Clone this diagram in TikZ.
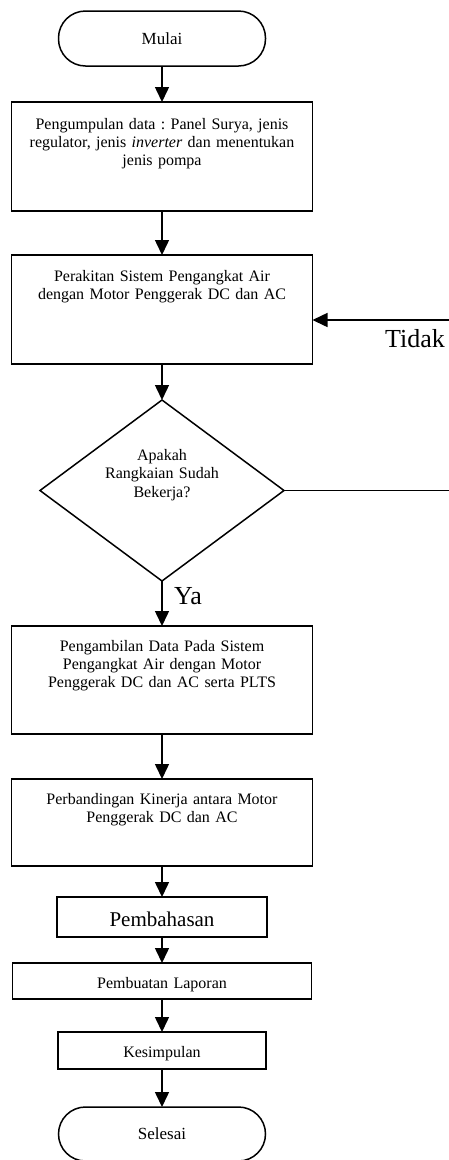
\documentclass[tikz,border=0pt]{standalone}
\usepackage{fontspec}
\setmainfont{Liberation Serif}
\frenchspacing
\usetikzlibrary{shapes.geometric, arrows.meta, positioning}
\tikzset{
    terminal/.style={rectangle, draw, rounded corners=27pt, line width=1.5pt, outer sep=0pt, minimum width=207pt, minimum height=55pt, inner sep=0pt, font=\fontsize{17pt}{19pt}\selectfont},
    proses/.style={rectangle, draw, line width=1.5pt, outer sep=0pt, text width=280pt, inner xsep=10.5pt, inner ysep=0pt, align=center, font=\fontsize{16pt}{18.4pt}\selectfont},
    keputusan/.style={diamond, draw, line width=1.5pt, outer sep=0pt, aspect=1.35, minimum width=244pt, minimum height=181pt, inner sep=0pt, text width=130pt, align=center, text height=11pt, text depth=71pt, font=\fontsize{16pt}{18.4pt}\selectfont},
    arrow/.style={-{Triangle[length=15pt, width=14pt]}, line width=1.5pt},
    garis/.style={line width=1.5pt},
    jawab/.style={inner sep=0pt, font=\fontsize{26pt}{30pt}\selectfont},
}

\begin{document}
\begin{tikzpicture}[x=1pt, y=1pt]
    \useasboundingbox (0,0) rectangle (449,-1160);
    % Mulai
    \node[terminal] (mulai) at (162,-38.5) {Mulai};
    
    % Persiapan dan perakitan
    \node[proses, below=36pt of mulai, text height=27pt, text depth=82pt] (kumpul) {Pengumpulan data : Panel Surya, jenis\\regulator, jenis \textit{inverter} dan menentukan\\jenis pompa};
    \node[proses, below=44pt of kumpul, text height=26pt, text depth=83pt] (rakit) {Perakitan Sistem Pengangkat Air\\dengan Motor Penggerak DC dan AC};
    
    % Keputusan
    \node[keputusan, below=36pt of rakit] (cek) {Apakah\\Rangkaian Sudah\\Bekerja?};
    
    % Pengujian dan analisis
    \node[proses, below=45pt of cek, text height=25pt, text depth=83pt] (ambil) {Pengambilan Data Pada Sistem\\Pengangkat Air dengan Motor\\Penggerak DC dan AC serta PLTS};
    \node[proses, below=45pt of ambil, text height=25pt, text depth=62pt] (banding) {Perbandingan Kinerja antara Motor\\Penggerak DC dan AC};
    \node[proses, below=31pt of banding, text width=189pt, text height=29pt, text depth=11pt, font=\fontsize{21pt}{24pt}\selectfont] (bahas) {Pembahasan};
    \node[proses, below=26pt of bahas, text width=278pt, text height=25pt, text depth=11pt] (lapor) {Pembuatan Laporan};
    \node[proses, below=33pt of lapor, text width=187pt, text height=25pt, text depth=12pt] (simpul) {Kesimpulan};
    
    % Selesai
    \node[terminal, below=38pt of simpul, minimum height=54pt] (selesai) {Selesai};
    
    % Jalur kembali (Tidak)
    \coordinate (kanan) at ([xshift=165pt]cek.east);
    \coordinate (masuk) at ([yshift=-10.5pt]rakit.east -| kanan);
    \node[jawab, anchor=base east] (tidak) at ([shift={(-4pt,-27pt)}]masuk) {Tidak};
    \node[jawab, anchor=base west] (ya) at ([shift={(12pt,-23pt)}]cek.south) {Ya};
    
    % Panah
    \draw[arrow] (mulai) -- (kumpul);
    \draw[arrow] (kumpul) -- (rakit);
    \draw[arrow] (rakit) -- (cek);
    \draw[arrow] (cek) -- (ambil);
    \draw[garis] (cek.east) -- (kanan);
    \draw[arrow] (masuk) -- (masuk -| rakit.east);
    \draw[arrow] (ambil) -- (banding);
    \draw[arrow] (banding) -- (bahas);
    \draw[arrow] (bahas) -- (lapor);
    \draw[arrow] (lapor) -- (simpul);
    \draw[arrow] (simpul) -- (selesai);
\end{tikzpicture}
\end{document}
